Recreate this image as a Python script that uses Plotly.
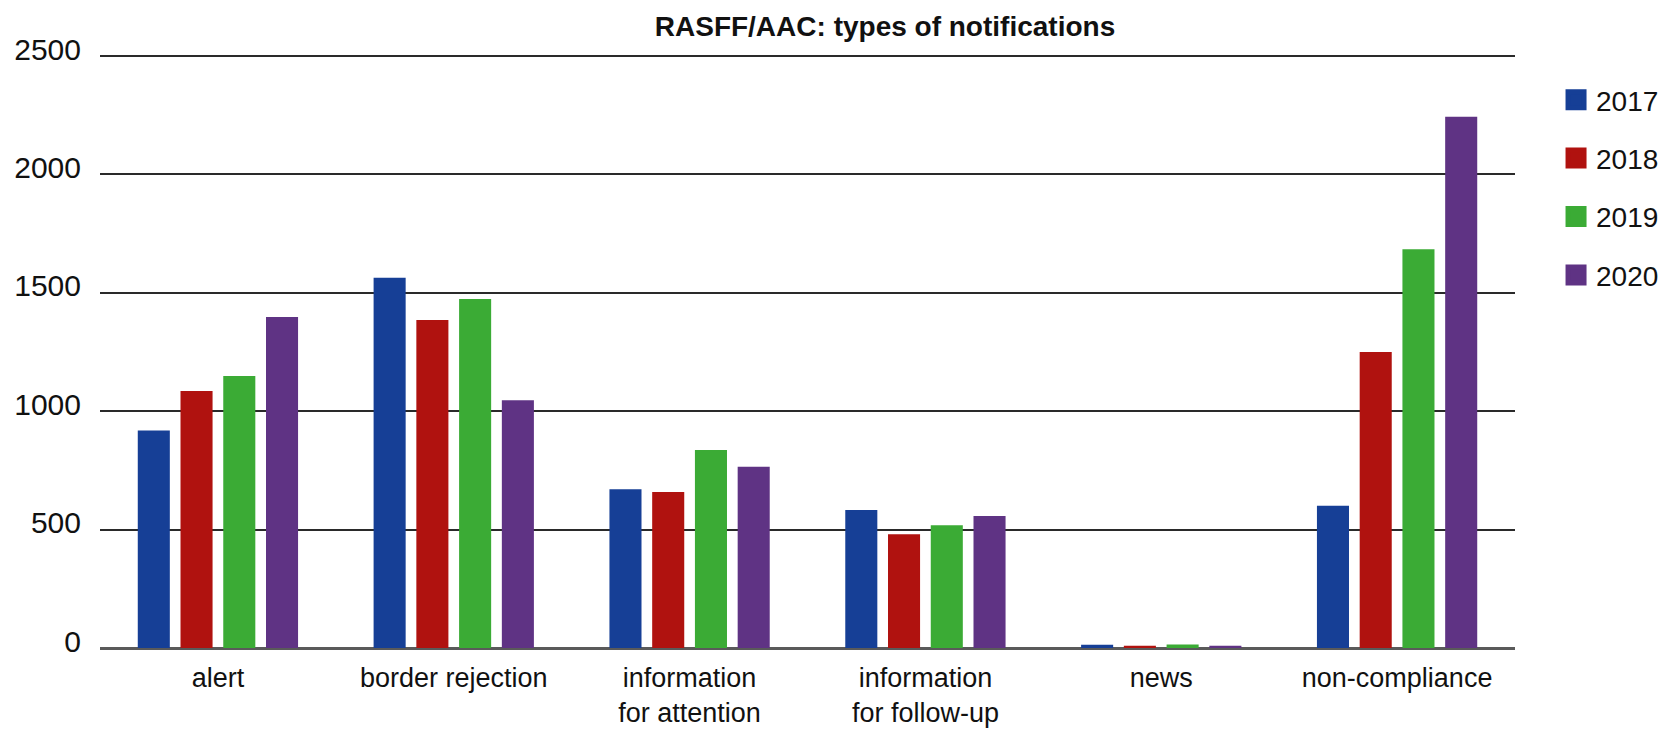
import plotly.graph_objects as go

categories = ["alert", "border rejection", "information<br>for attention",
              "information<br>for follow-up", "news", "non-compliance"]
years = ["2017", "2018", "2019", "2020"]
v2017 = [919, 1564, 670, 583, 14, 601]
v2018 = [1085, 1385, 659, 480, 9, 1250]
v2019 = [1149, 1474, 836, 518, 15, 1684]
v2020 = [1398, 1046, 766, 557, 10, 2244]
y_ticks = [0, 500, 1000, 1500, 2000, 2500]

series = [v2017, v2018, v2019, v2020]
colors = ["#163f96", "#b0120f", "#3bab35", "#5f3384"]

fig = go.Figure()
for name, vals, col in zip(years, series, colors):
    fig.add_trace(go.Bar(x=categories, y=vals, name=name, legendgroup=name,
                         showlegend=False,
                         marker=dict(color=col, line=dict(width=0))))
# legend entries (larger square swatches)
for name, col in zip(years, colors):
    fig.add_trace(go.Scatter(x=[None], y=[None], name=name, legendgroup=name,
                             mode="markers", showlegend=True, hoverinfo="skip",
                             marker=dict(symbol="square", size=16, color=col,
                                         line=dict(color=col, width=5))))

fig.update_layout(
    width=1675, height=737,
    margin=dict(l=100, r=160, t=53, b=89, autoexpand=False),
    paper_bgcolor="white", plot_bgcolor="white",
    barmode="group", bargap=0.275, bargroupgap=0.25,
    title=dict(text="<b>RASFF/AAC: types of notifications</b>",
               x=885/1675, xref="container", xanchor="center",
               y=1 - 26/737, yanchor="middle",
               font=dict(family="Liberation Sans", size=28, color="#111")),
    legend=dict(x=1.029, xanchor="left", y=1 - 22/595, yanchor="top",
                itemsizing="trace",
                font=dict(family="Liberation Sans", size=28, color="#111"),
                tracegroupgap=19, bgcolor="rgba(0,0,0,0)"),
    showlegend=True,
)
fig.update_xaxes(showgrid=False, showline=False, ticks="", ticklabelstandoff=11,
                 automargin=False,
                 tickfont=dict(family="Liberation Sans", size=27, color="#111"))
fig.update_yaxes(range=[0, 2513], tickvals=y_ticks, showgrid=True,
                 gridcolor="#2a2a2a", gridwidth=1.6, automargin=False,
                 zeroline=True, zerolinecolor="#5a5a5a", zerolinewidth=2.5,
                 showline=False, ticks="", ticklabelstandoff=18, ticklabelshift=-7,
                 tickfont=dict(family="Liberation Sans", size=30, color="#111"))

fig.write_html("out.html")
